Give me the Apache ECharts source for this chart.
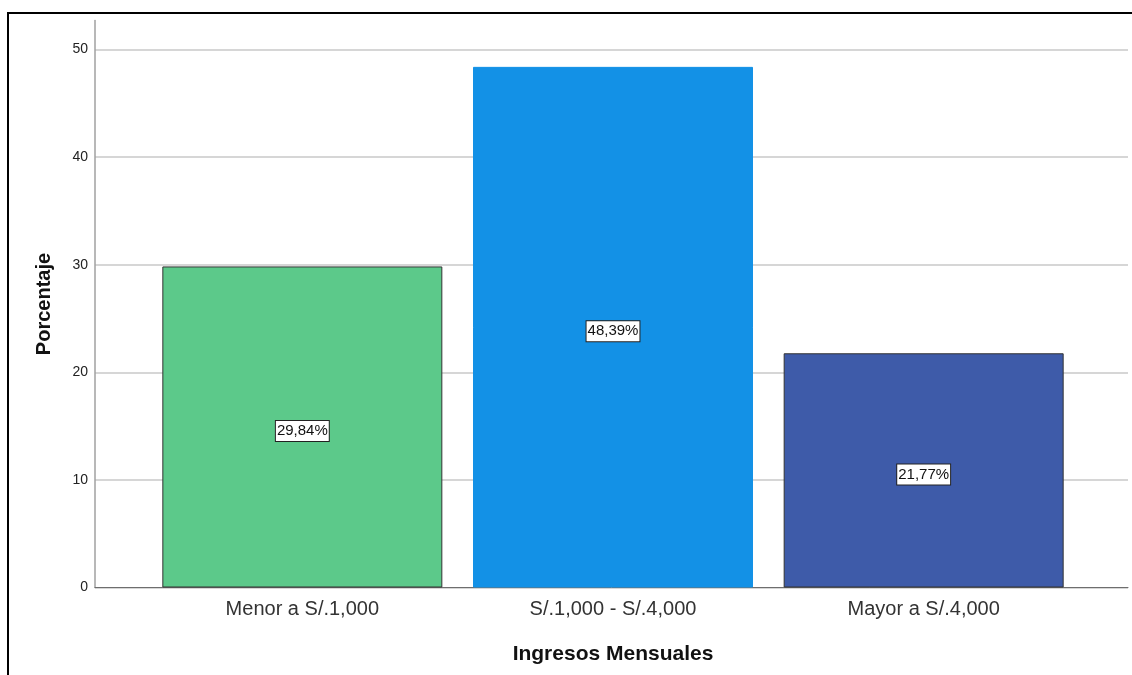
<!DOCTYPE html>
<html>
<head>
<meta charset="utf-8">
<script src="https://cdn.jsdelivr.net/npm/echarts@6/dist/echarts.min.js"></script>
<style>
html, body { margin: 0; padding: 0; background: #fff; }
#chart { width: 1132px; height: 675px; }
</style>
</head>
<body>
<div id="chart"></div>
<script>
// datos del grafico
var categorias = ['Menor a S/.1,000', 'S/.1,000 - S/.4,000', 'Mayor a S/.4,000'];
var porcentajes = [29.84, 48.39, 21.77];
var colores = ['#5cc98a', '#1391e6', '#3e5ba9'];
var bordes = ['#333333', '#1391e6', '#333333'];

var fuente = '"Liberation Sans", Arial, sans-serif';

var myChart = echarts.init(document.getElementById('chart'));
var option = {
	backgroundColor : '#ffffff',
	animation : false,
	graphic : [ {
		type : 'rect',
		shape : { x : 8, y : 13, width : 1200, height : 700 },
		style : { fill : 'none', stroke : '#000', lineWidth : 2 }
	} ],
	grid : [
		{ left : 95, right : 4, top : 20.5, bottom : 87.5 },
		{ left : 147, right : 53, top : 20.5, bottom : 87.5 }
	],
	xAxis : [ {
		gridIndex : 0,
		type : 'value',
		min : 0,
		max : 1,
		axisLine : { show : true, lineStyle : { color : '#6e6e6e', width : 1 } },
		axisTick : { show : false },
		axisLabel : { show : false },
		splitLine : { show : false }
	}, {
		gridIndex : 1,
		type : 'category',
		data : categorias,
		axisLine : { show : false },
		axisTick : { show : false },
		axisLabel : {
			margin : 12,
			color : '#333',
			fontSize : 20,
			fontFamily : fuente
		},
		name : 'Ingresos Mensuales',
		nameLocation : 'middle',
		nameGap : 56,
		nameTextStyle : {
			color : '#111',
			fontSize : 21,
			fontWeight : 'bold',
			fontFamily : fuente
		}
	} ],
	yAxis : [ {
		gridIndex : 0,
		type : 'value',
		min : 0,
		max : 52.7,
		interval : 10,
		axisLine : { show : true, lineStyle : { color : '#a0a0a0', width : 1.5 } },
		axisTick : { show : false },
		axisLabel : {
			showMaxLabel : false,
			margin : 7,
			color : '#222',
			fontSize : 14,
			fontFamily : fuente
		},
		splitLine : {
			show : true,
			showMaxLine : false,
			lineStyle : { color : '#c8c8c8', width : 1.5 }
		},
		name : 'Porcentaje',
		nameLocation : 'middle',
		nameGap : 41,
		nameTextStyle : {
			color : '#111',
			fontSize : 20,
			fontWeight : 'bold',
			fontFamily : fuente
		}
	}, {
		gridIndex : 1,
		type : 'value',
		min : 0,
		max : 52.7,
		show : false
	} ],
	series : [ {
		type : 'bar',
		xAxisIndex : 1,
		yAxisIndex : 1,
		barWidth : 280,
		data : porcentajes.map(function(v, i) {
			return {
				value : v,
				itemStyle : {
					color : colores[i],
					borderColor : bordes[i],
					borderWidth : 1
				}
			};
		}),
		label : {
			show : true,
			position : 'inside',
			offset : [ 0, 4 ],
			formatter : function(p) {
				return p.value.toFixed(2).replace('.', ',') + '%';
			},
			color : '#111',
			fontSize : 15,
			fontFamily : fuente,
			backgroundColor : '#fff',
			borderColor : '#222',
			borderWidth : 1,
			padding : [ 3, 1, 2, 1 ]
		}
	} ]
};
myChart.setOption(option);
</script>
</body>
</html>
